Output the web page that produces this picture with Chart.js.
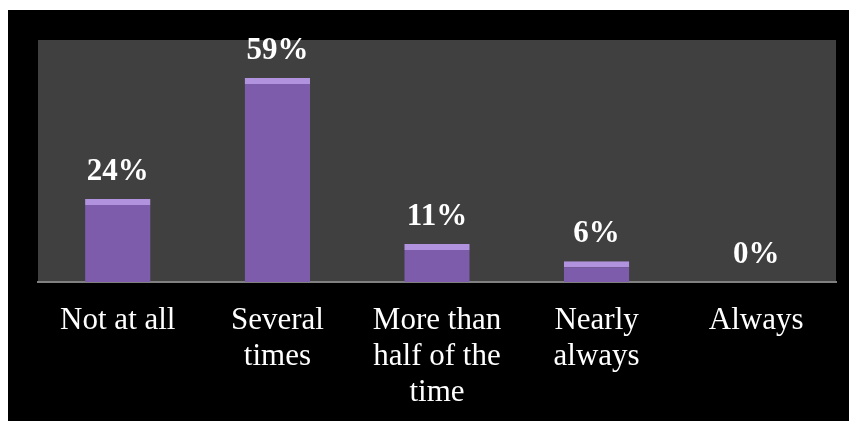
<!DOCTYPE html>
<html>
<head>
<meta charset="utf-8">
<script src="https://cdn.jsdelivr.net/npm/chart.js@4"></script>
<style>
  html, body { margin: 0; padding: 0; background: #fff; }
  #wrap { position: absolute; left: 8px; top: 10px; width: 841px; height: 411px; background: #000; }
</style>
</head>
<body>
<div id="wrap"><canvas id="freq"></canvas></div>
<script>
const categories = [
  'Not at all',
  ['Several', 'times'],
  ['More than', 'half of the', 'time'],
  ['Nearly', 'always'],
  'Always'
];
const percents = [24, 59, 11, 6, 0]; // 各選項百分比
const yMax = 70;

// 繪圖區灰底
const plotBg = {
  id: 'plotBg',
  beforeDraw(chart) {
    const { ctx, chartArea: a } = chart;
    ctx.save();
    ctx.fillStyle = '#404040';
    ctx.fillRect(a.left, a.top, a.right - a.left, a.bottom - a.top);
    ctx.restore();
  }
};

// 長條上方的百分比文字
const valueLabels = {
  id: 'valueLabels',
  afterDatasetsDraw(chart) {
    const { ctx } = chart;
    const meta = chart.getDatasetMeta(0);
    ctx.save();
    ctx.fillStyle = '#ffffff';
    ctx.font = 'bold 31px "Liberation Serif", "Times New Roman", serif';
    ctx.textAlign = 'center';
    ctx.textBaseline = 'alphabetic';
    meta.data.forEach((bar, i) => {
      ctx.fillText(percents[i] + '%', bar.x, bar.y - 19);
    });
    ctx.restore();
  }
};

new Chart(document.getElementById('freq'), {
  type: 'bar',
  data: {
    labels: categories,
    datasets: [{
      data: percents,
      backgroundColor: '#7c5cab',
      borderColor: '#b192de',
      borderWidth: { top: 6, left: 0, right: 0, bottom: 0 },
      borderSkipped: 'bottom',
      categoryPercentage: 1,
      barPercentage: 0.41
    }]
  },
  options: {
    responsive: true,
    maintainAspectRatio: false,
    animation: false,
    layout: { padding: { left: 30, right: 13, top: 30, bottom: 0 } },
    plugins: {
      legend: { display: false },
      tooltip: { enabled: false }
    },
    scales: {
      x: {
        grid: { display: false, drawTicks: false, tickLength: 0 },
        border: { display: true, color: '#808080', width: 2 },
        ticks: {
          color: '#ffffff',
          padding: 21,
          maxRotation: 0,
          autoSkip: false,
          font: { family: '"Liberation Serif", "Times New Roman", serif', size: 31, lineHeight: 1.16 }
        },
        afterFit(scale) { scale.height = 139; } // 軸高固定，讓繪圖區底部對齊
      },
      y: {
        display: false,
        min: 0,
        max: yMax
      }
    }
  },
  plugins: [plotBg, valueLabels]
});
</script>
</body>
</html>
